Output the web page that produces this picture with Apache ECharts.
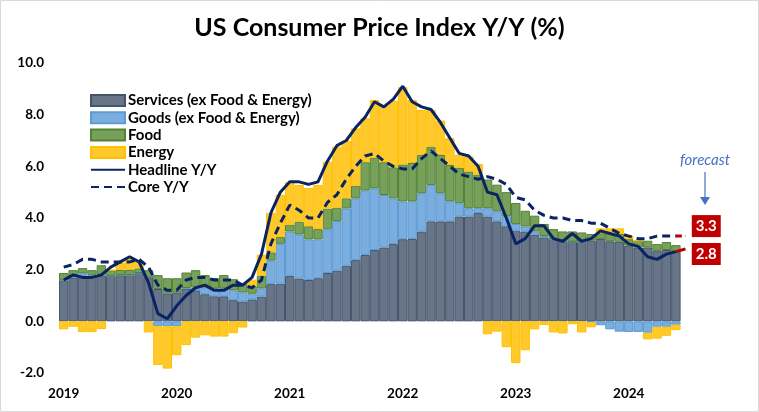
<!DOCTYPE html>
<html><head><meta charset="utf-8">
<script src="https://cdn.jsdelivr.net/npm/echarts@6/dist/echarts.min.js"></script>
<style>html,body{margin:0;padding:0;background:#fff}#c{width:759px;height:412px}</style>
</head><body><div id="c"></div>
<script>
// Monthly categories (Jun 2019 .. Dec 2024 forecast point)
const months = [];
(function(){ let y=2019, m=6; for (let i=0;i<67;i++){ months.push(y+'-'+String(m).padStart(2,'0')); m++; if(m>12){m=1;y++;} } })();
const yearLabels = ['2019','2020','2021','2022','2023','2024'];

const services = [1.59,1.70,1.76,1.75,1.78,1.76,1.79, 1.79,1.87,1.70,1.25,1.08,1.12,1.27,1.20,1.05,0.97,0.97,0.82,
  0.77,0.85,0.96,1.44,1.46,1.76,1.66,1.60,1.67,1.87,1.97,2.15,
  2.37,2.57,2.76,2.86,2.99,3.18,3.19,3.48,3.87,3.87,3.87,4.06,
  4.06,4.19,4.06,3.87,3.68,3.51,3.48,3.35,3.25,3.19,3.10,3.08,
  3.08,3.12,3.19,3.10,3.08,2.93,2.86,2.86,2.73,2.76,2.70];
const goods = [0.00,0.02,0.10,0.05,0.03,0.00,0.00, 0.00,0.00,0.00,-0.19,-0.19,-0.19,0.02,0.11,0.25,0.30,0.30,0.38,
  0.35,0.22,0.31,0.91,1.54,1.72,1.70,1.57,1.50,1.69,1.91,2.22,
  2.39,2.49,2.39,2.03,1.77,1.46,1.46,1.48,1.41,1.09,0.78,0.51,
  0.32,0.19,0.32,0.39,0.39,0.26,0.19,0.13,0.05,0.00,0.00,0.00,
  0.00,-0.03,-0.15,-0.31,-0.40,-0.41,-0.41,-0.44,-0.21,-0.21,-0.13];
const food = [0.28,0.26,0.20,0.18,0.36,0.22,0.20, 0.20,0.18,0.28,0.54,0.59,0.55,0.60,0.67,0.49,0.40,0.52,0.43,
  0.35,0.29,0.49,0.32,0.26,0.26,0.50,0.51,0.40,0.80,0.52,0.39,
  0.49,1.10,1.18,1.27,1.20,1.43,1.48,1.49,1.48,1.48,1.40,1.37,
  1.42,1.30,1.11,1.03,0.93,0.81,0.61,0.61,0.47,0.38,0.38,0.40,
  0.36,0.26,0.22,0.31,0.30,0.25,0.26,0.26,0.26,0.31,0.25];
const energy = [-0.31,-0.21,-0.42,-0.42,-0.30,0.00,0.29, 0.42,0.29,-0.43,-1.50,-1.64,-1.12,-0.92,-0.63,-0.54,-0.59,-0.59,-0.46,
  -0.24,0.25,0.82,1.52,1.64,1.64,1.42,1.48,1.71,1.82,2.36,2.23,
  2.22,1.70,2.24,2.19,2.58,3.00,2.44,1.73,1.42,1.33,1.04,0.51,
  0.58,0.41,-0.50,-0.40,-1.00,-1.62,-1.12,-0.31,-0.14,-0.43,-0.47,-0.11,
  -0.43,-0.20,0.19,0.19,0.22,0.14,0.00,-0.26,-0.46,-0.35,-0.21];
const headline = [1.6,1.8,1.7,1.7,1.8,2.1,2.3, 2.5,2.3,1.5,0.3,0.1,0.6,1.0,1.3,1.4,1.2,1.2,1.4,
  1.4,1.7,2.6,4.2,5.0,5.4,5.4,5.3,5.4,6.2,6.8,7.0,
  7.5,7.9,8.5,8.3,8.6,9.1,8.5,8.3,8.2,7.7,7.1,6.5,
  6.4,6.0,5.0,4.9,4.0,3.0,3.2,3.7,3.7,3.2,3.1,3.4,
  3.1,3.2,3.5,3.4,3.3,3.0,2.9,2.5,2.4,2.6,2.7, 2.8];
const core = [2.1,2.2,2.4,2.4,2.3,2.3,2.3, 2.3,2.4,2.1,1.4,1.2,1.2,1.6,1.7,1.7,1.6,1.6,1.6,
  1.4,1.3,1.6,3.0,3.8,4.5,4.3,4.0,4.0,4.6,4.9,5.5,
  6.0,6.4,6.5,6.2,6.0,5.9,5.9,6.3,6.6,6.3,6.0,5.7,
  5.6,5.5,5.6,5.5,5.3,4.8,4.7,4.3,4.1,4.0,4.0,3.9,
  3.9,3.8,3.8,3.6,3.4,3.3,3.2,3.2,3.3,3.3,3.3, 3.3];
const lastActual = 65;

const NAVY = '#0a2463', RED = '#c00000';
const FONT = 'Lato';

function fc(arr, offY){
  return arr.map((v,i)=>{
    if (i < lastActual) return null;
    if (i === arr.length-1) return {value:v, label:{show:true, position:'right', distance:6, offset:[0,offY],
      formatter:p=>Number(p.value).toFixed(1), color:'#fff', fontFamily:FONT, fontWeight:'bold', fontSize:15,
      backgroundColor:RED, padding:[4,4,3,4]}};
    return v;
  });
}
const hideSym = {color:'rgba(0,0,0,0)', borderWidth:0, opacity:0};
const chart = echarts.init(document.getElementById('c'));
const barBase = {type:'bar', stack:'cpi', barCategoryGap:'0%', barGap:'0%'};
chart.setOption({
  animation:false,
  title:{text:'US Consumer Price Index Y/Y (%)', left:'center', top:10,
    textStyle:{fontFamily:FONT, fontSize:25, fontWeight:'bold', color:'#000'}},
  grid:{left:59, right:69, top:63, bottom:39},
  legend:{orient:'vertical', left:85, top:88, itemWidth:34, itemHeight:11, itemGap:2.3,
    textStyle:{fontFamily:FONT, fontSize:15, lineHeight:15, fontWeight:'bold', color:'#000', padding:[0,0,0,-2]},
    selectedMode:false,
    data:[{name:'Services (ex Food & Energy)', icon:'rect'},{name:'Goods (ex Food & Energy)', icon:'rect'},
      {name:'Food', icon:'rect'},{name:'Energy', icon:'rect'},
      {name:'Headline Y/Y', itemStyle:hideSym},{name:'Core Y/Y', itemStyle:hideSym}]},
  xAxis:{type:'category', data:months, axisLine:{show:false}, axisTick:{show:false},
    axisLabel:{interval:11, margin:14, formatter:(v,i)=> yearLabels[i/12] || '', fontFamily:FONT, fontWeight:'bold', fontSize:13.5, color:'#000'}},
  yAxis:{type:'value', min:-2, max:10, interval:2, splitLine:{show:false}, axisLine:{show:false}, axisTick:{show:false},
    axisLabel:{margin:15, formatter:v=>v.toFixed(1), fontFamily:FONT, fontWeight:'bold', fontSize:13.5, color:'#000'}},
  graphic:[
    {type:'rect', shape:{x:0.5,y:0.5,width:758,height:411}, style:{fill:'none', stroke:'#d9d9d9', lineWidth:1}, z:-1},
    {type:'text', x:705, y:160, style:{text:'forecast', fill:'#4472c4', font:'italic 15px '+FONT, align:'center', verticalAlign:'middle'}},
    {type:'line', shape:{x1:705,y1:172,x2:705,y2:198}, style:{stroke:'#4472c4', lineWidth:1.2}},
    {type:'polygon', shape:{points:[[700,197],[710,197],[705,205]]}, style:{fill:'#4472c4'}}
  ],
  series:[
    Object.assign({name:'Services (ex Food & Energy)', data:services, itemStyle:{color:'#687589', borderColor:'#44546a', borderWidth:1}}, barBase),
    Object.assign({name:'Goods (ex Food & Energy)', data:goods, itemStyle:{color:'#7badde', borderColor:'#5b9bd5', borderWidth:1}}, barBase),
    Object.assign({name:'Food', data:food, itemStyle:{color:'#77a05b', borderColor:'#548235', borderWidth:1}}, barBase),
    Object.assign({name:'Energy', data:energy, itemStyle:{color:'#ffc92e', borderColor:'#ffc000', borderWidth:1}}, barBase),
    {name:'Headline Y/Y', type:'line', data:headline.slice(0,lastActual+1), symbol:'none', z:5,
      lineStyle:{color:NAVY, width:3}, itemStyle:{color:NAVY}},
    {name:'Core Y/Y', type:'line', data:core.slice(0,lastActual+1), symbol:'none', z:5,
      lineStyle:{color:NAVY, width:3, type:[8,5]}, itemStyle:{color:NAVY}},
    {name:'Headline fc', type:'line', data:fc(headline, 5), symbol:'circle', symbolSize:1, showSymbol:true, z:6,
      lineStyle:{color:RED, width:3}, itemStyle:{color:RED}},
    {name:'Core fc', type:'line', data:fc(core, -10), symbol:'circle', symbolSize:1, showSymbol:true, z:6,
      lineStyle:{color:RED, width:3, type:[6,4]}, itemStyle:{color:RED}}
  ]
});
</script></body></html>
